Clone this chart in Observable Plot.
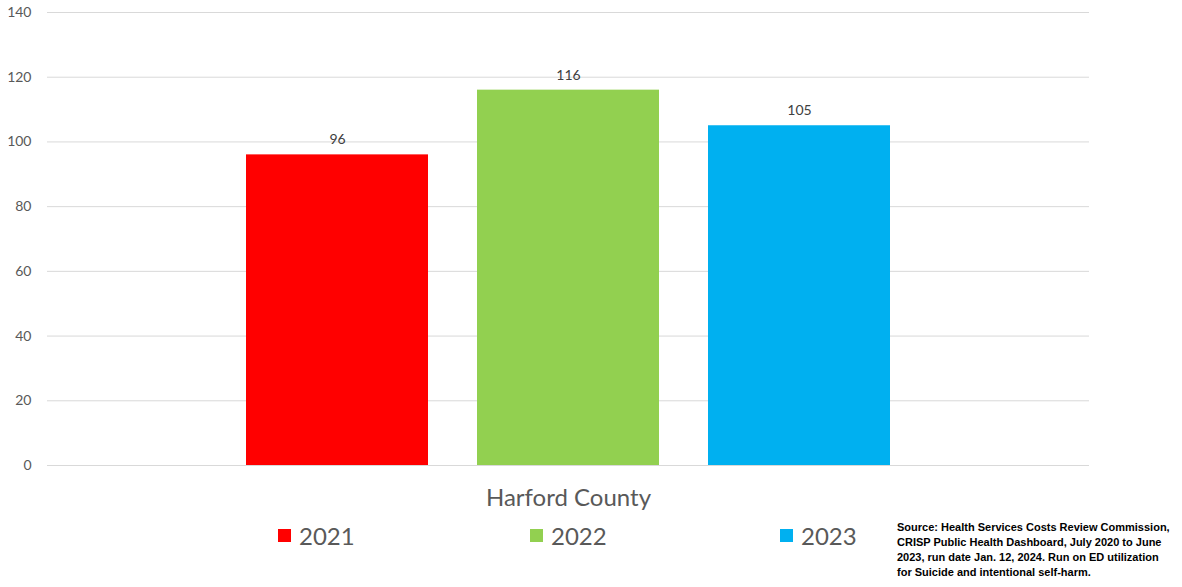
<!DOCTYPE html>
<html><head><meta charset="utf-8">
<script src="https://cdn.jsdelivr.net/npm/d3@7"></script>
<script src="https://cdn.jsdelivr.net/npm/@observablehq/plot@0.6"></script>
<style>
body{margin:0;background:#fff;font-family:Lato,"Open Sans",sans-serif;}
#wrap{position:relative;width:1182px;height:587px;overflow:hidden;}
#chart{position:absolute;left:0;top:0;}
.leg{position:absolute;top:521px;display:flex;align-items:center;font-size:24px;color:#595959;}
.sw{width:13px;height:13px;margin-right:8px;}
#source{position:absolute;left:897px;top:520px;font-size:11px;font-weight:bold;line-height:15px;color:#000;font-family:"Liberation Sans",Arial,sans-serif;letter-spacing:0px;}
</style></head><body>
<div id="wrap"><div id="chart"></div><div id="legend"></div>
<div id="source">Source: Health Services Costs Review Commission,<br>CRISP Public Health Dashboard, July 2020 to June<br>2023, run date Jan. 12, 2024. Run on ED utilization<br>for Suicide and intentional self-harm.</div></div>
<script>
const county = ["Harford County"];
const years = ["2021", "2022", "2023"];
const values = [96, 116, 105];
const colors = ["#FF0000", "#92D050", "#00B0F0"];
const yTicks = [0, 20, 40, 60, 80, 100, 120, 140];
const legendLeft = [278, 530, 780];

const data = years.map((y, i) => ({county: county[0], year: y, value: values[i]}));

const chart = Plot.plot({
  width: 1182, height: 515,
  marginLeft: 47, marginRight: 93, marginTop: 12, marginBottom: 50,
  style: {fontFamily: "Lato, 'Open Sans', sans-serif", fontSize: "14px", color: "#595959", background: "white"},
  fx: {domain: county, padding: 0, label: null},
  x: {domain: years, paddingInner: 0.212, paddingOuter: 0.861, axis: null},
  y: {domain: [0, 140]},
  color: {domain: years, range: colors},
  marks: [
    Plot.gridY({ticks: yTicks, stroke: "#d9d9d9", strokeOpacity: 1}),
    Plot.axisY({ticks: yTicks, tickSize: 0, tickPadding: 16, label: null, fill: "#595959"}),
    Plot.axisFx({anchor: "bottom", tickSize: 0, tickPadding: 23, fontSize: 24, label: null, fill: "#595959"}),
    Plot.barY(data, {fx: "county", x: "year", y: "value", fill: "year"}),
    Plot.text(data, {fx: "county", x: "year", y: "value", text: d => String(d.value), dy: -15, fontSize: 14, fill: "#404040"})
  ]
});
document.getElementById("chart").appendChild(chart);

const legend = document.getElementById("legend");
years.forEach((y, i) => {
  const d = document.createElement("div");
  d.className = "leg";
  d.style.left = legendLeft[i] + "px";
  d.innerHTML = `<div class="sw" style="background:${colors[i]}"></div><span>${y}</span>`;
  legend.appendChild(d);
});
</script></body></html>
